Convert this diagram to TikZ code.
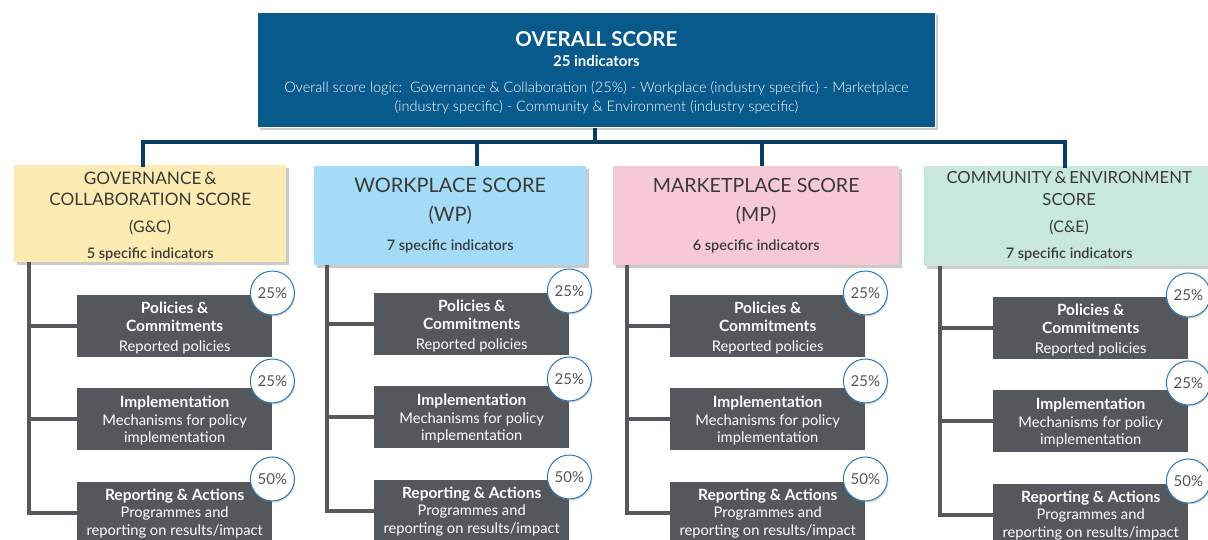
\documentclass[tikz,border=0pt]{standalone}
\usepackage{fontspec}
\setmainfont{Lato}
\newfontfamily\lightfont{Lato Light}
\newfontfamily\semifont{Lato Semibold}
\usetikzlibrary{shadows}
\newcommand\setfs[2]{\fontsize{#1}{#2}\selectfont}
\definecolor{navytop}{HTML}{08598C}
\definecolor{navyline}{HTML}{0B3C63}
\definecolor{gcyellow}{HTML}{FCEBB2}
\definecolor{wpblue}{HTML}{A4DCF8}
\definecolor{mppink}{HTML}{F7C9D7}
\definecolor{cemint}{HTML}{C8E8DC}
\definecolor{boxgray}{HTML}{54585C}
\definecolor{spinegray}{HTML}{55595C}
\definecolor{txtdark}{HTML}{3A3A3A}
\definecolor{txtgray}{HTML}{555555}
\definecolor{circblue}{HTML}{2A78B5}
\begin{document}
\begin{tikzpicture}[x=1pt,y=-1pt,
  shad/.style={drop shadow={shadow xshift=2.5pt,shadow yshift=-2.5pt,opacity=0.35,fill=black!60}},
  topbox/.style={shad,fill=navytop,draw=white,line width=0.8pt,minimum width=678pt,minimum height=115pt,anchor=north west,inner sep=0pt,align=center,text=white,font=\setfs{14}{19}},
  catbox/.style={shad,anchor=north west,inner sep=0pt,align=center,text=txtdark},
  darkbox/.style={fill=boxgray,minimum width=195pt,minimum height=62pt,anchor=north west,inner sep=0pt,align=center,text=white,font=\setfs{14.7}{17.5}},
  pct/.style={circle,fill=white,draw=circblue,line width=1pt,minimum size=44pt,inner sep=0pt,text=txtgray,font=\setfs{15}{16},drop shadow={shadow xshift=1pt,shadow yshift=-1.5pt,opacity=0.3}},
  navyconn/.style={draw=navyline,line width=3.5pt},
  spine/.style={draw=spinegray,line width=3.5pt},
]
\path[use as bounding box] (0,0) rectangle (1208,540);
\newcommand\boxhead[1]{{\setfs{15.5}{17.5}\bfseries #1}}

% top box
\node[topbox] (top) at (257,12) {%
  {\setfs{20.5}{22}\bfseries\rule{0pt}{21pt}OVERALL SCORE}\\[1pt]
  {\setfs{15}{16}\bfseries 25 indicators}\\[7pt]
  {\lightfont\setfs{14.5}{19}Overall score logic:\ \ Governance \& Collaboration (25\%) - Workplace (industry specific) - Marketplace}\\
  {\lightfont\setfs{14.5}{19}(industry specific) - Community \& Environment (industry specific)}};

% category boxes
\node[catbox,fill=gcyellow,minimum width=272pt,minimum height=97pt,font=\setfs{16}{21}] (gc) at (14,165) {%
  {\setfs{17.2}{21}\rule{0pt}{18pt}GOVERNANCE\,\&}\\
  {\setfs{17.2}{21}COLLABORATION SCORE}\\[6pt]
  {\setfs{16}{21}(G\&C)}\\[5pt]
  {\semifont\setfs{14.5}{17}5 specific indicators}};
\node[catbox,fill=wpblue,minimum width=272pt,minimum height=99pt,font=\setfs{16}{29}] (wp) at (314,166) {%
  {\setfs{20}{22}WORKPLACE SCORE}\\
  {\setfs{20}{22}(WP)}\\
  {\semifont\setfs{14.5}{17}7 specific indicators}};
\node[catbox,fill=mppink,minimum width=286pt,minimum height=99pt,font=\setfs{16}{29}] (mp) at (613,166) {%
  {\setfs{19.6}{22}MARKETPLACE SCORE}\\
  {\setfs{19.6}{22}(MP)}\\
  {\semifont\setfs{14.5}{17}6 specific indicators}};
\node[catbox,fill=cemint,minimum width=290pt,minimum height=100pt,font=\setfs{16}{22}] (ce) at (924,166) {%
  {\setfs{16.7}{21}COMMUNITY\,\&\,ENVIRONMENT}\\
  {\setfs{16.7}{21}SCORE}\\[5pt]
  {\setfs{16}{21}(C\&E)}\\[4pt]
  {\semifont\setfs{14.5}{17}7 specific indicators}};

% navy connectors
\coordinate (j) at (595,142);
\coordinate (dgc) at (143,142);
\coordinate (dwp) at (477,142);
\coordinate (dmp) at (762,142);
\coordinate (dce) at (1065,142);
\draw[navyconn] (top.south -| j) -- (j);
\draw[navyconn,line cap=rect] (dgc |- gc.north) -- (dgc) -- (dce) -- (dce |- ce.north);
\draw[navyconn] (dwp) -- (dwp |- wp.north);
\draw[navyconn] (dmp) -- (dmp |- mp.north);

% sub boxes
\foreach \nm/\bx/\sx/\ya/\yb/\yc in {gc/77/29/295/388/482, wp/374/327/293/386/480, mp/670/627/295/388/482, ce/993/940/297/390/484}{
  \coordinate (\nm s) at (\sx,0);
  \node[darkbox] (\nm1) at (\bx,\ya) {\boxhead{\rule{0pt}{15.5pt}Policies \&}\\\boxhead{Commitments}\\[3pt]Reported policies};
  \node[darkbox] (\nm2) at (\bx,\yb) {\boxhead{\rule{0pt}{14.5pt}Implementation}\\Mechanisms for policy\\implementation};
  \node[darkbox] (\nm3) at (\bx,\yc) {\boxhead{Reporting \& Actions}\\Programmes and\\reporting on results/impact};
  \draw[spine] (\nm.south -| \nm s) |- (\nm3.west);
  \draw[spine] (\nm1.west -| \nm s) -- (\nm1.west);
  \draw[spine] (\nm2.west -| \nm s) -- (\nm2.west);
  \node[pct] (\nm1p) at ([yshift=2pt]\nm1.north east) {25\%};
  \node[pct] (\nm2p) at ([yshift=7pt]\nm2.north east) {25\%};
  \node[pct] (\nm3p) at ([yshift=3pt]\nm3.north east) {50\%};
}
\end{tikzpicture}
\end{document}
